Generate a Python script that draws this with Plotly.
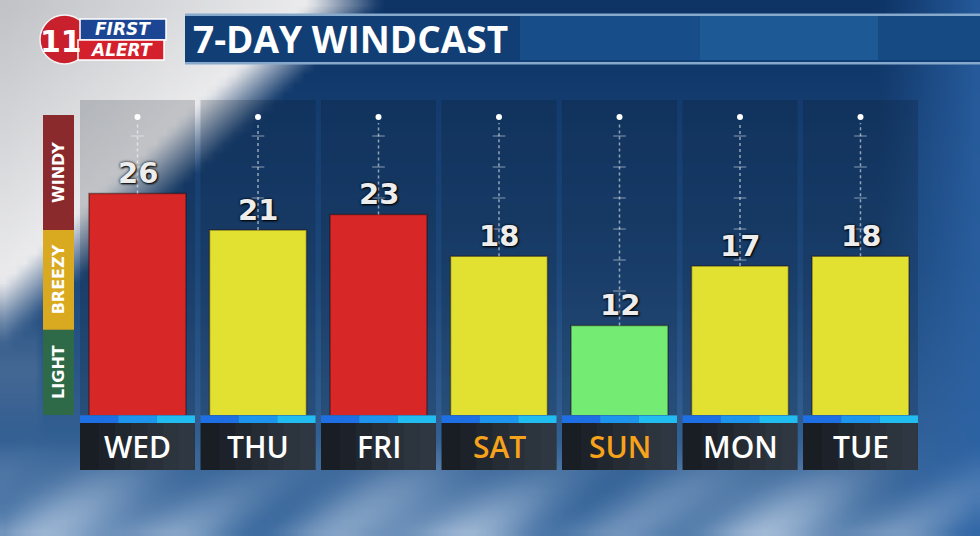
import base64, struct, zlib, math
import plotly.graph_objects as go

# ---------------- data ----------------
DAYS = ["WED", "THU", "FRI", "SAT", "SUN", "MON", "TUE"]
WIND_MPH = [26, 21, 23, 18, 12, 17, 18]
LEVELS = ["WINDY", "BREEZY", "WINDY", "BREEZY", "LIGHT", "BREEZY", "BREEZY"]
WEEKEND = ["SAT", "SUN"]
BAND_NAMES = ["LIGHT", "BREEZY", "WINDY"]
BAND_TOPS = [11.7, 21.0, 41.2]          # upper edge of each wind band (mph)
TITLE = "7-DAY WINDCAST"

# ---------------- styles ----------------
LEVEL_COLORS = {"LIGHT": "#74EC74", "BREEZY": "#E2E132", "WINDY": "#D82727"}
BAND_COLORS = {"LIGHT": "#2E6A48", "BREEZY": "#D9A91F", "WINDY": "#8A2A2C"}
W, H = 980, 536
PLOT_L, PLOT_R, PLOT_T, PLOT_B = 77.25, 920.75, 100, 415
Y_LOG_RANGE = [0.8513, 1.6528]


def px(x):
    return x / W


def py(y):
    return 1 - y / H


def y_at(pix):
    frac = (PLOT_B - pix) / (PLOT_B - PLOT_T)
    return 10 ** (Y_LOG_RANGE[0] + frac * (Y_LOG_RANGE[1] - Y_LOG_RANGE[0]))


def pix_of(v):
    frac = (math.log10(v) - Y_LOG_RANGE[0]) / (Y_LOG_RANGE[1] - Y_LOG_RANGE[0])
    return PLOT_B - frac * (PLOT_B - PLOT_T)


# ---------------- background picture (sky) ----------------
def mix(c1, c2, t):
    t = max(0.0, min(1.0, t))
    return tuple(c1[k] + (c2[k] - c1[k]) * t for k in range(3))


def sky(x, y):
    v = y / H
    if v < 0.5:
        c = mix((14, 52, 102), (30, 72, 122), v / 0.5)
    else:
        c = mix((30, 72, 122), (64, 110, 162), (v - 0.5) / 0.5)
    c = mix(c, (44, 100, 168), (x - 880) / 100 * 0.8)
    d = x / 330 + y / 300
    grey = mix((192, 194, 198), (236, 236, 238), d / 0.95)
    c = mix(grey, c, (d - 0.95) / 0.22)
    if x < 45 and 300 < y < 440:
        c = mix(c, (96, 124, 160), 0.5 * (1 - abs(y - 370) / 70))
    if y > 440:
        w = (y - 440) / 96
        n = 0.5 + 0.25 * math.sin(x / 55.0) + 0.25 * math.sin(x / 23.0 + y / 17.0)
        c = mix(c, (172, 194, 220), w * n * 0.95)
    return c


def png_uri(w, h, fn):
    raw = bytearray()
    for j in range(h):
        raw.append(0)
        for i in range(w):
            r, g, b = fn((i + 0.5) * W / w, (j + 0.5) * H / h)
            raw += bytes((int(r), int(g), int(b)))

    def chunk(t, d):
        return struct.pack(">I", len(d)) + t + d + struct.pack(">I", zlib.crc32(t + d) & 0xFFFFFFFF)

    data = (b"\x89PNG\r\n\x1a\n"
            + chunk(b"IHDR", struct.pack(">IIBBBBB", w, h, 8, 2, 0, 0, 0))
            + chunk(b"IDAT", zlib.compress(bytes(raw)))
            + chunk(b"IEND", b""))
    return "data:image/png;base64," + base64.b64encode(data).decode()


fig = go.Figure()

# dotted guide lines above each bar
top_pix = 117
lx, ly, tx, ty = [], [], [], []
for d, v in zip(DAYS, WIND_MPH):
    lx += [d, d, None]
    ly += [v, y_at(top_pix + 6), None]
    p = 136
    while p < pix_of(v) - 4:
        tx.append(d)
        ty.append(y_at(p))
        p += 31
fig.add_trace(go.Scatter(x=lx, y=ly, mode="lines", hoverinfo="skip",
                         line=dict(color="rgba(255,255,255,0.55)", width=1.5, dash="dot")))
fig.add_trace(go.Scatter(x=tx, y=ty, mode="markers", hoverinfo="skip",
                         marker=dict(symbol="line-ew", size=9,
                                     line=dict(color="rgba(255,255,255,0.5)", width=1))))
fig.add_trace(go.Scatter(x=DAYS, y=[y_at(top_pix)] * len(DAYS), mode="markers", hoverinfo="skip",
                         marker=dict(symbol="circle", size=6, color="white")))

# bars
fig.add_trace(go.Bar(
    x=DAYS, y=WIND_MPH, width=0.805,
    marker=dict(color=[LEVEL_COLORS[l] for l in LEVELS],
                line=dict(color="rgba(30,10,10,0.45)", width=1.5)),
    hoverinfo="skip",
))

shapes = []
annotations = []

# column panels behind bars
for i, d in enumerate(DAYS):
    shapes.append(dict(type="rect", xref="x", yref="y domain", x0=i - 0.477, x1=i + 0.477,
                       y0=0, y1=1, fillcolor="rgba(8,16,30,0.18)", line=dict(width=0), layer="below"))

# blue strip + day label boxes
for i, d in enumerate(DAYS):
    x0, x1 = i - 0.477, i + 0.477
    xm1, xm2 = i - 0.16, i + 0.16
    shapes.append(dict(type="rect", xref="x", yref="paper", x0=x0, x1=xm1, y0=py(423), y1=py(415.5),
                       fillcolor="#1F6FE4", line=dict(width=0)))
    shapes.append(dict(type="rect", xref="x", yref="paper", x0=xm1, x1=xm2, y0=py(423), y1=py(415.5),
                       fillcolor="#1E95EC", line=dict(width=0)))
    shapes.append(dict(type="rect", xref="x", yref="paper", x0=xm2, x1=x1, y0=py(423), y1=py(415.5),
                       fillcolor="#22BDF0", line=dict(width=0)))
    shapes.append(dict(type="rect", xref="x", yref="paper", x0=x0, x1=x1, y0=py(470), y1=py(423),
                       fillcolor="#191D24", line=dict(width=0)))
    for k in range(6):
        shapes.append(dict(type="rect", xref="x", yref="paper", x0=i - 0.32 + k * 0.133, x1=x1,
                           y0=py(470), y1=py(423), fillcolor="rgba(120,135,155,0.05)", line=dict(width=0)))
    annotations.append(dict(x=d, y=py(446.5), xref="x", yref="paper", text=d, showarrow=False,
                            xanchor="center", yanchor="middle",
                            font=dict(family="Open Sans", size=30, weight=600,
                                      color="#F7A21B" if d in WEEKEND else "white")))

# value labels
for d, v in zip(DAYS, WIND_MPH):
    annotations.append(dict(x=d, y=math.log10(v), xref="x", yref="y", text=str(v), showarrow=False,
                            xanchor="center", yanchor="bottom", yshift=1,
                            font=dict(family="DejaVu Sans", size=29, color="#EDEDED", weight="bold",
                                      shadow="0px 0px 3px #000, 1px 1px 2px #000")))

# left wind-band strip
lo = 10 ** Y_LOG_RANGE[0]
for name, hi in zip(BAND_NAMES, BAND_TOPS):
    shapes.append(dict(type="rect", xref="paper", yref="y", x0=px(43), x1=px(74), y0=lo, y1=hi,
                       fillcolor=BAND_COLORS[name], line=dict(width=0)))
    annotations.append(dict(x=px(58.5), y=(math.log10(lo) + math.log10(hi)) / 2, xref="paper", yref="y",
                            text=name, showarrow=False, textangle=-90, xanchor="center", yanchor="middle",
                            font=dict(family="DejaVu Sans", size=16, color="white", weight="bold")))
    lo = hi

# header title box
shapes += [
    dict(type="rect", xref="paper", yref="paper", x0=px(185), x1=1, y0=py(62), y1=py(14),
         fillcolor="#113F75", line=dict(width=0)),
    dict(type="rect", xref="paper", yref="paper", x0=px(520), x1=px(700), y0=py(60), y1=py(16),
         fillcolor="#174D88", line=dict(width=0)),
    dict(type="rect", xref="paper", yref="paper", x0=px(700), x1=px(878), y0=py(60), y1=py(16),
         fillcolor="#1D5994", line=dict(width=0)),
    dict(type="rect", xref="paper", yref="paper", x0=px(878), x1=1, y0=py(60), y1=py(16),
         fillcolor="#164A82", line=dict(width=0)),
    dict(type="rect", xref="paper", yref="paper", x0=px(185), x1=1, y0=py(16), y1=py(13.5),
         fillcolor="#86A9CC", line=dict(width=0)),
    dict(type="rect", xref="paper", yref="paper", x0=px(185), x1=1, y0=py(64.5), y1=py(62),
         fillcolor="#86A9CC", line=dict(width=0)),
]
annotations.append(dict(x=px(191), y=py(39), xref="paper", yref="paper", text=TITLE, showarrow=False,
                        xanchor="left", yanchor="middle",
                        font=dict(family="Open Sans", size=37, color="white", weight="bold")))

# logo
shapes += [
    dict(type="circle", xref="paper", yref="paper", x0=px(40), x1=px(89), y0=py(64), y1=py(15),
         fillcolor="#C8202C", line=dict(color="#F4F4F4", width=1.5)),
    dict(type="rect", xref="paper", yref="paper", x0=px(80), x1=px(166), y0=py(40), y1=py(19),
         fillcolor="#1C4594", line=dict(color="white", width=1.5)),
    dict(type="rect", xref="paper", yref="paper", x0=px(78), x1=px(164), y0=py(60), y1=py(40),
         fillcolor="#D3202C", line=dict(color="white", width=1.5)),
]
annotations += [
    dict(x=px(61), y=py(41), xref="paper", yref="paper", text="11", showarrow=False,
         xanchor="center", yanchor="middle",
         font=dict(family="DejaVu Sans", size=30, color="white", weight="bold")),
    dict(x=px(123), y=py(29.5), xref="paper", yref="paper", text="<i>FIRST</i>", showarrow=False,
         xanchor="center", yanchor="middle",
         font=dict(family="DejaVu Sans", size=17, color="white", weight="bold")),
    dict(x=px(121), y=py(50), xref="paper", yref="paper", text="<i>ALERT</i>", showarrow=False,
         xanchor="center", yanchor="middle",
         font=dict(family="DejaVu Sans", size=17, color="white", weight="bold")),
]

fig.update_layout(
    width=W, height=H, autosize=False,
    margin=dict(l=0, r=0, t=0, b=0),
    paper_bgcolor="#1E4A7E", plot_bgcolor="rgba(0,0,0,0)",
    showlegend=False, barmode="overlay",
    xaxis=dict(type="category", domain=[px(PLOT_L), px(PLOT_R)], range=[-0.5, 6.5],
               visible=False, fixedrange=True),
    yaxis=dict(type="log", domain=[py(PLOT_B), py(PLOT_T)], range=Y_LOG_RANGE,
               visible=False, fixedrange=True),
    shapes=shapes, annotations=annotations,
    images=[dict(source=png_uri(98, 54, sky), xref="paper", yref="paper", x=0, y=1,
                 sizex=1, sizey=1, sizing="stretch", xanchor="left", yanchor="top", layer="below")],
)

fig.write_html("out.html", config={"displayModeBar": False},
               post_script="document.body.style.margin='0';document.body.style.overflow='hidden';")
